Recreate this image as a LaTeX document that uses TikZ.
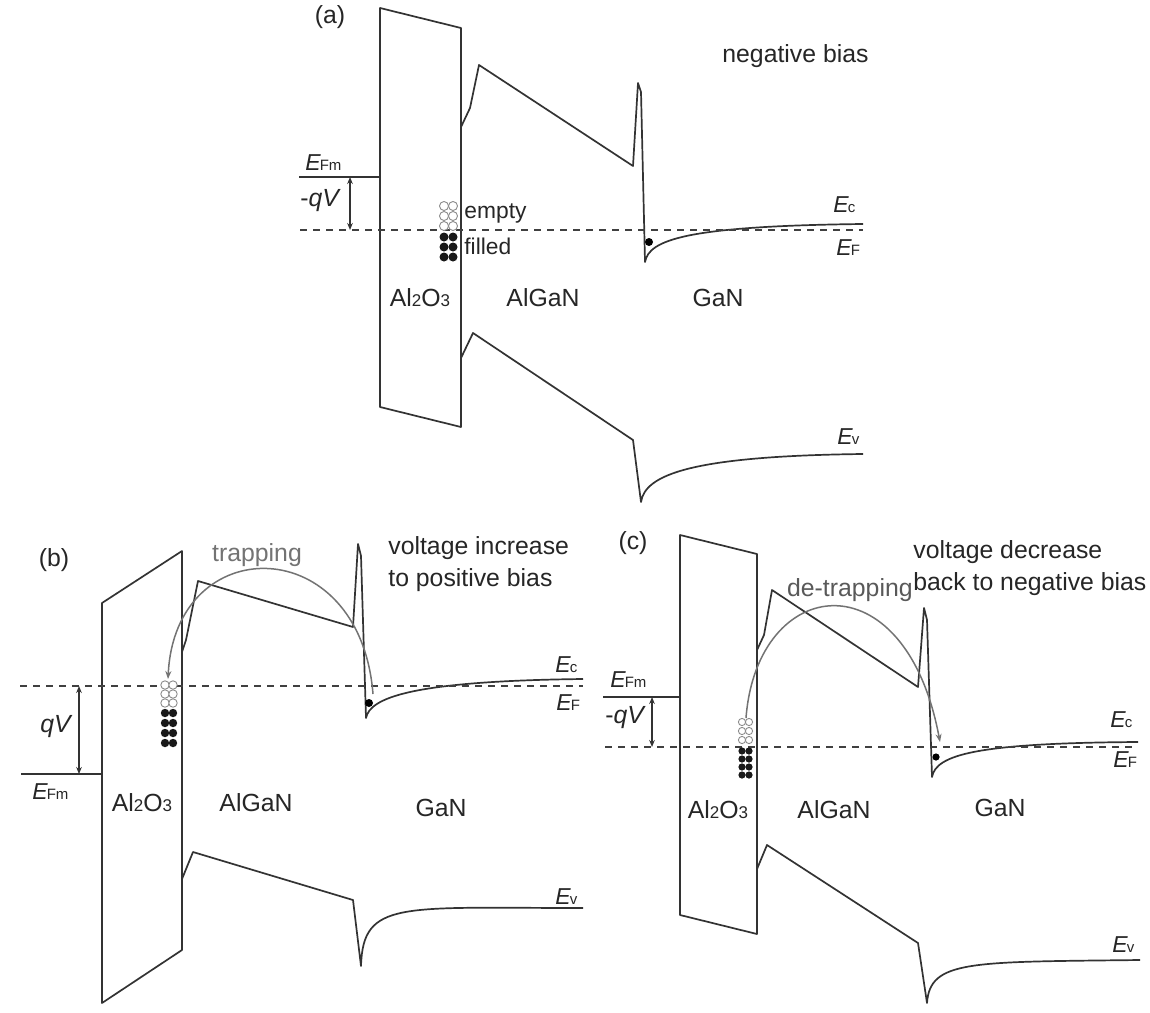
\documentclass[tikz,border=0pt]{standalone}
\usepackage{fontspec}
\setmainfont{Liberation Sans}
\usetikzlibrary{arrows.meta}
\newcommand{\Elab}[1]{\textit{E}\kern-0.6pt{\fontsize{7.5}{8}\selectfont #1}}
\newcommand{\AlO}{Al{\fontsize{8.5}{9}\selectfont 2}O{\fontsize{8.5}{9}\selectfont 3}}
\begin{document}
\begin{tikzpicture}[x=0.5pt,y=-0.5pt,
  band/.style={draw=black!80,line width=0.85pt,line join=round},
  fermi/.style={draw=black!75,line width=0.6pt,dash pattern=on 3.5pt off 3pt},
  lvl/.style={draw=black!80,line width=0.75pt},
  lbl/.style={inner sep=0pt,font=\fontsize{12.4}{14}\selectfont,text=black!85},
  slbl/.style={inner sep=0pt,font=\fontsize{11.4}{13}\selectfont,text=black!85},
  elbl/.style={inner sep=0pt,font=\fontsize{11.5}{13}\selectfont,text=black!85,anchor=west},
  emptytrap/.style={draw=black!45,fill=white,line width=0.45pt},
  filledtrap/.style={fill=black!90},
  electron/.style={fill=black},
  qv/.style={draw=black!80,line width=0.6pt,{Stealth[length=3.5pt,width=2.8pt]}-{Stealth[length=3.5pt,width=2.8pt]}},
  trarc/.style={draw=black!55,line width=0.75pt,-{Stealth[length=4pt,width=3pt]}}
]
\useasboundingbox[fill=white] (0,0) rectangle (1150,1012);

% ================= (a) =================
\node[lbl] (alab) at (330,17) {(a)};
\node[lbl,anchor=west] (abias) at (722,56) {negative bias};
\draw[band] (380,8) -- (461,28) -- (461,427) -- (380,407) -- cycle;
\draw[band] (461,127) -- (470,108) -- (479,65) -- (633,166) -- (638,83) -- (641,92) -- (645,262)
  .. controls (649,240) and (685,226) .. (863,224);
\draw[band] (461,358) -- (473,333) -- (633,440) -- (641,502)
  .. controls (645,475) and (690,456) .. (863,454);
\draw[fermi] (300,230) -- (863,230);
\draw[lvl] (299,177) -- (380,177);
\coordinate (aFm) at (350,177); \coordinate (aF) at (350,230);
\draw[qv] (aFm) -- (aF);
\node[elbl] (aEFm) at (305,163) {\Elab{Fm}};
\node[lbl,anchor=west] (aqV) at (300,201) {-\textit{qV}};
\foreach \y in {206,216,226} {\draw[emptytrap] (444,\y) circle (4.5); \draw[emptytrap] (453,\y) circle (4.5);}
\foreach \y in {237,247,257} {\fill[filledtrap] (444,\y) circle (4.5); \fill[filledtrap] (453,\y) circle (4.5);}
\node[slbl,anchor=west] (aempty) at (464,213) {empty};
\node[slbl,anchor=west] (afilled) at (464,246) {filled};
\fill[electron] (649,242) circle (4);
\node[elbl] (aEc) at (833,205) {\Elab{c}};
\node[elbl] (aEF) at (836,248) {\Elab{F}};
\node[elbl] (aEv) at (837,437) {\Elab{v}};
\node[lbl] (aAl) at (420,298) {\AlO};
\node[lbl] (aAlGaN) at (543,298) {AlGaN};
\node[lbl] (aGaN) at (718,298) {GaN};

% ================= (b) =================
\node[lbl] (blab) at (54,560) {(b)};
\node[lbl,anchor=west] (bv1) at (388,548) {voltage increase};
\node[lbl,anchor=west] (bv2) at (388,580) {to positive bias};
\node[lbl,text=black!55] (btrap) at (257,555) {trapping};
\draw[band] (102,603) -- (182,551) -- (182,950) -- (102,1003) -- cycle;
\draw[band] (182,652) -- (186,640) -- (198,581) -- (353,627) -- (358,544) -- (361,556) -- (366,718)
  .. controls (370,698) and (410,681) .. (583,679);
\draw[band] (182,879) -- (193,852) -- (353,900) -- (361,966)
  .. controls (363,900) and (400,908) .. (583,908);
\draw[fermi] (20,686) -- (583,686);
\draw[lvl] (21,774) -- (102,774);
\coordinate (bF) at (79,686); \coordinate (bFm) at (79,774);
\draw[qv] (bF) -- (bFm);
\node[lbl,anchor=west] (bqV) at (40,727) {\textit{qV}};
\node[elbl] (bEFm) at (32,792) {\Elab{Fm}};
\foreach \y in {685,694,703} {\draw[emptytrap] (165,\y) circle (4.2); \draw[emptytrap] (173,\y) circle (4.2);}
\foreach \y in {713,723,733,743} {\fill[filledtrap] (165,\y) circle (4.2); \fill[filledtrap] (173,\y) circle (4.2);}
\fill[electron] (369,703) circle (4);
\coordinate (bChan) at (373,694); \coordinate (bTrap) at (168,679);
\draw[trarc] (bChan) .. controls (360,530) and (175,530) .. (bTrap);
\node[elbl] (bEc) at (555,665) {\Elab{c}};
\node[elbl] (bEF) at (556,703) {\Elab{F}};
\node[elbl] (bEv) at (555,897) {\Elab{v}};
\node[lbl] (bAl) at (142,803) {\AlO};
\node[lbl] (bAlGaN) at (256,803) {AlGaN};
\node[lbl] (bGaN) at (441,808) {GaN};

% ================= (c) =================
\node[lbl] (clab) at (633,543) {(c)};
\node[lbl,anchor=west] (cv1) at (913,552) {voltage decrease};
\node[lbl,anchor=west] (cv2) at (913,584) {back to negative bias};
\node[lbl,text=black!65,anchor=east] (cdetrap) at (913,590) {de-trapping};
\draw[band] (680,535) -- (757,554) -- (757,934) -- (680,915) -- cycle;
\draw[band] (757,650) -- (764,635) -- (772,590) -- (918,687) -- (924,608) -- (927,620) -- (932,777)
  .. controls (936,755) and (975,743) .. (1138,742);
\draw[band] (757,869) -- (767,845) -- (918,943) -- (927,1003)
  .. controls (930,960) and (970,962) .. (1140,960);
\draw[fermi] (605,747) -- (1138,747);
\draw[lvl] (603,697) -- (680,697);
\coordinate (cFm) at (652,697); \coordinate (cF) at (652,747);
\draw[qv] (cFm) -- (cF);
\node[elbl] (cEFm) at (610,680) {\Elab{Fm}};
\node[lbl,anchor=west] (cqV) at (605,718) {-\textit{qV}};
\foreach \y in {722,731,740} {\draw[emptytrap] (742,\y) circle (3.6); \draw[emptytrap] (749,\y) circle (3.6);}
\foreach \y in {751,759,767,775} {\fill[filledtrap] (742,\y) circle (3.6); \fill[filledtrap] (749,\y) circle (3.6);}
\fill[electron] (936,757) circle (3.6);
\coordinate (cTrap) at (746,718); \coordinate (cChan) at (940,742);
\draw[trarc] (cTrap) .. controls (757,575) and (905,555) .. (cChan);
\node[elbl] (cEc) at (1110,720) {\Elab{c}};
\node[elbl] (cEF) at (1113,760) {\Elab{F}};
\node[elbl] (cEv) at (1112,945) {\Elab{v}};
\node[lbl] (cAl) at (718,810) {\AlO};
\node[lbl] (cAlGaN) at (834,810) {AlGaN};
\node[lbl] (cGaN) at (1000,808) {GaN};
\end{tikzpicture}
\end{document}
